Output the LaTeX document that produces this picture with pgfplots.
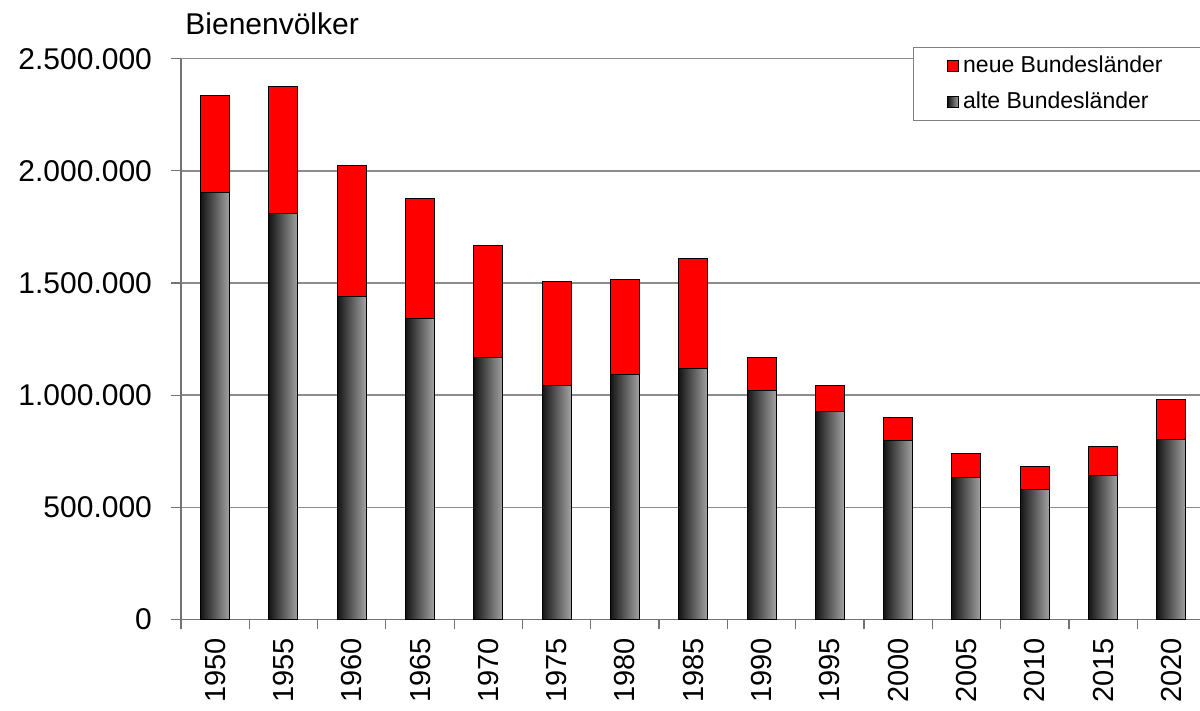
\documentclass[border=0pt]{standalone}
\usepackage{pgfplots}
\pgfplotsset{compat=1.18}
\usepackage{fontspec}
\setmainfont{Liberation Sans}
\pgfplotsset{
  gbar/.style={ybar, bar shift=0pt, bar width=14.5pt, draw=black, line width=0.5pt,
    left color=black!92, right color=black!36,
    legend image code/.code={\draw[draw=black, line width=0.4pt, left color=black!92, right color=black!36] (0pt,-2.75pt) rectangle (5.5pt,2.75pt);}},
}
\begin{document}
\begin{tikzpicture}
\path[use as bounding box] (-90.5pt,-45.75pt) rectangle (509.5pt,309.75pt);
\begin{axis}[
  at={(0pt,0pt)}, anchor=south west,
  scale only axis, width=512.25pt, height=280.375pt,
  xmin=-0.5, xmax=14.5, ymin=0, ymax=2500000,
  enlargelimits=false,
  axis lines=left,
  axis line style={-, draw=black!55, line width=0.6pt},
  tick align=outside,
  major tick length=5pt,
  tick style={draw=black!55, line width=0.6pt},
  xtick={-0.5,0.5,...,14.5},
  xticklabels={},
  extra x ticks={0,1,...,14},
  extra x tick labels={1950,1955,1960,1965,1970,1975,1980,1985,1990,1995,2000,2005,2010,2015,2020},
  extra x tick style={tick style={draw=none}},
  xticklabel style={rotate=90, anchor=east, font=\fontsize{14.5}{16}\selectfont, inner xsep=4pt},
  ytick={0,500000,1000000,1500000,2000000,2500000},
  scaled y ticks=false,
  /pgf/number format/fixed,
  /pgf/number format/1000 sep={.},
  /pgf/number format/assume math mode=true,
  yticklabel style={font=\fontsize{15}{17}\selectfont, xshift=-6pt},
  ymajorgrids,
  grid style={draw=black!45, line width=0.7pt},
  legend style={at={(axis description cs:0.7145,1.0215)}, anchor=north west,
    draw=black!50, fill=white, font=\fontsize{11.5}{13}\selectfont,
    inner xsep=17pt, inner ysep=2.5pt, row sep=4pt, legend cell align=left},
]
% totals (alte + neue), drawn full height in red
\addplot[ybar, bar shift=0pt, bar width=14.5pt, draw=black, line width=0.5pt, fill=red,
  legend image code/.code={\draw[draw=black, line width=0.4pt, fill=red] (0pt,-2.75pt) rectangle (5.5pt,2.75pt);}]
  coordinates {(0,2335000) (1,2375000) (2,2022000) (3,1878000) (4,1667000) (5,1508000) (6,1517000) (7,1610000) (8,1169000) (9,1045000) (10,900000) (11,738000) (12,684000) (13,770000) (14,979000)};
\addlegendentry{neue Bundesländer}
% alte Bundesländer, one bar per plot so each bar gets its own shading
\addplot[gbar] coordinates {(0,1903000)};
\addlegendentry{alte Bundesländer}
\addplot[gbar, forget plot] coordinates {(1,1811000)};
\addplot[gbar, forget plot] coordinates {(2,1439000)};
\addplot[gbar, forget plot] coordinates {(3,1343000)};
\addplot[gbar, forget plot] coordinates {(4,1169000)};
\addplot[gbar, forget plot] coordinates {(5,1042000)};
\addplot[gbar, forget plot] coordinates {(6,1093000)};
\addplot[gbar, forget plot] coordinates {(7,1120000)};
\addplot[gbar, forget plot] coordinates {(8,1023000)};
\addplot[gbar, forget plot] coordinates {(9,927000)};
\addplot[gbar, forget plot] coordinates {(10,800000)};
\addplot[gbar, forget plot] coordinates {(11,634000)};
\addplot[gbar, forget plot] coordinates {(12,580000)};
\addplot[gbar, forget plot] coordinates {(13,641000)};
\addplot[gbar, forget plot] coordinates {(14,803000)};
\end{axis}
\node[anchor=base west, font=\fontsize{15}{17}\selectfont, inner sep=0pt] at (2pt,292.25pt) {Bienenvölker};
\end{tikzpicture}
\end{document}
